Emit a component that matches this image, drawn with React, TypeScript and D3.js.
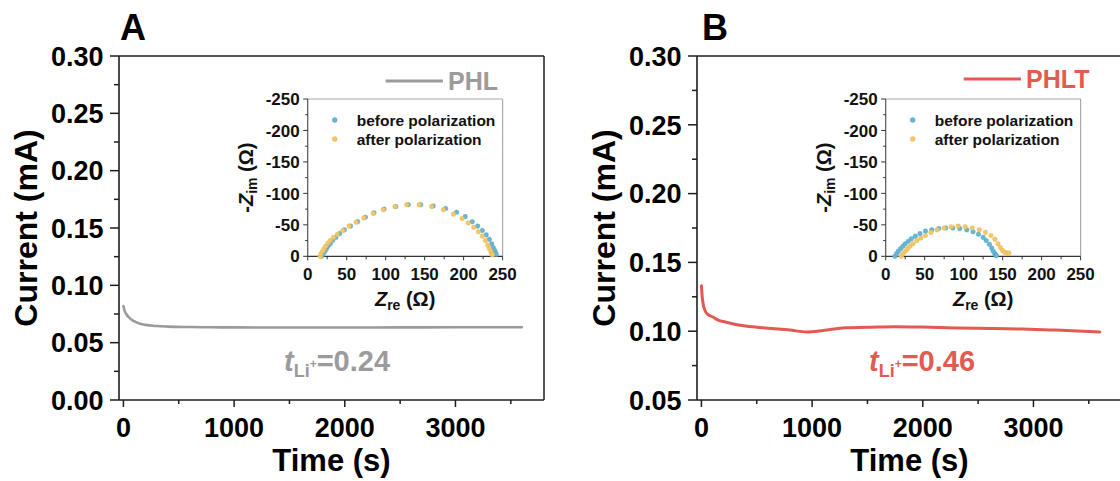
import React from "react";
import * as d3 from "d3";

// ---------- main chronoamperometry data ----------
const timeA = [0, 10, 25, 50, 75, 100, 150, 200, 300, 400, 600, 800, 1000, 1500, 2000, 2500, 3000, 3300, 3600];
const currentA = [0.082, 0.078, 0.075, 0.072, 0.070, 0.0685, 0.0665, 0.0655, 0.0645, 0.064, 0.0636, 0.0634, 0.0633, 0.0632, 0.0632, 0.0633, 0.0634, 0.0635, 0.0635];

const timeB = [0, 5, 15, 30, 60, 100, 150, 200, 300, 400, 600, 800, 950, 1100, 1300, 1500, 1750, 2000, 2300, 2600, 2900, 3200, 3400, 3600];
const currentB = [0.133, 0.127, 0.120, 0.1155, 0.112, 0.1105, 0.108, 0.107, 0.105, 0.1038, 0.1022, 0.1008, 0.0995, 0.1005, 0.1025, 0.1028, 0.1033, 0.103, 0.1024, 0.102, 0.1016, 0.1008, 0.1002, 0.0995];

// ---------- Nyquist inset data (Zre, -Zim) ----------
const zreABefore = [18, 20, 22, 24, 26, 29, 32, 36, 41, 47, 55, 64, 74, 85, 98, 113, 129, 145, 161, 177, 191, 202, 211, 218, 224, 229, 233, 236, 238, 240, 241, 242];
const zimABefore = [0, 4, 8, 12, 16, 20, 25, 30, 36, 42, 48, 55, 62, 69, 75, 79, 82, 82, 80, 76, 70, 63, 55, 48, 41, 34, 27, 20, 14, 9, 5, 3];
const zreAAfter = [16, 17, 19, 21, 23, 26, 29, 33, 38, 45, 53, 62, 72, 84, 97, 112, 127, 143, 159, 174, 187, 198, 206, 213, 219, 224, 228, 231, 233, 235, 236, 237];
const zimAAfter = [0, 4, 8, 12, 16, 21, 25, 30, 35, 41, 48, 54, 61, 68, 74, 79, 82, 82, 79, 74, 67, 60, 53, 46, 39, 32, 25, 18, 12, 7, 4, 2];

const zreBBefore = [12, 14, 16, 19, 22, 25, 29, 33, 38, 44, 51, 59, 68, 77, 86, 95, 104, 112, 119, 125, 129, 133, 136, 138, 140, 141, 142];
const zimBBefore = [0, 4, 8, 12, 16, 20, 24, 28, 32, 36, 40, 42, 44, 45, 45, 44, 42, 39, 35, 30, 25, 19, 13, 8, 4, 2, 1];
const zreBAfter = [20, 22, 25, 28, 31, 35, 40, 45, 51, 58, 66, 75, 84, 93, 102, 111, 120, 128, 135, 140, 144, 147, 150, 153, 156, 158];
const zimBAfter = [0, 4, 8, 12, 16, 20, 25, 29, 33, 38, 42, 45, 47, 48, 47, 45, 42, 38, 33, 27, 20, 14, 9, 6, 5, 5];

// ---------- ticks ----------
const xMajorTicks = [0, 1000, 2000, 3000];
const xMinorTicks = [500, 1500, 2500, 3500];
const yMajorA = [0, 0.05, 0.1, 0.15, 0.2, 0.25, 0.3];
const yMinorA = [0.025, 0.075, 0.125, 0.175, 0.225, 0.275];
const yMajorB = [0.05, 0.1, 0.15, 0.2, 0.25, 0.3];
const yMinorB = [0.075, 0.125, 0.175, 0.225, 0.275];
const insetMajor = [0, 50, 100, 150, 200, 250];
const insetMinor = [25, 75, 125, 175, 225];

const FONT = "'Liberation Sans', Arial, Helvetica, sans-serif";
const BLUE = "#67b6d6";
const ORANGE = "#f5c668";

type PanelProps = {
  left: number;
  label: string;
  labelDx: number;
  yDomain: [number, number];
  yMajor: number[];
  yMinor: number[];
  time: number[];
  current: number[];
  color: string;
  lineWidth: number;
  name: string;
  legendY: number;
  tValue: string;
  tDx: number;
  before: [number[], number[]];
  after: [number[], number[]];
};

function Panel(p: PanelProps) {
  const W = 425;
  const top = 56;
  const bottom = 400;
  const left = p.left;
  const right = left + W;
  const x = d3.scaleLinear().domain([-40, 3800]).range([left, right]);
  const y = d3.scaleLinear().domain(p.yDomain).range([bottom, top]);
  const line = d3
    .line<number>()
    .x((_, i) => x(p.time[i]))
    .y((d) => y(d))
    .curve(d3.curveMonotoneX);
  const axisColor = "#1e1e1e";

  // inset
  const iLeft = left + 188.7;
  const iRight = iLeft + 194.9;
  const iTop = 99;
  const iBottom = 256.3;
  const ix = d3.scaleLinear().domain([0, 250]).range([iLeft, iRight]);
  const iy = d3.scaleLinear().domain([0, 250]).range([iBottom, iTop]);
  const iCx = (iLeft + iRight) / 2;
  const iCy = (iTop + iBottom) / 2;

  return (
    <g fontFamily={FONT} fontWeight="bold">
      {/* panel label */}
      <text x={left + p.labelDx} y={40} fontSize={36} fill="#000">
        {p.label}
      </text>

      {/* frame */}
      <line x1={left} x2={right} y1={top} y2={top} stroke={axisColor} strokeWidth={1.5} />
      <line x1={right} x2={right} y1={top} y2={bottom} stroke={axisColor} strokeWidth={1.5} />
      <line x1={left} x2={right} y1={bottom} y2={bottom} stroke={axisColor} strokeWidth={1.6} />
      <line x1={left} x2={left} y1={top} y2={bottom} stroke={axisColor} strokeWidth={1.6} />

      {/* y ticks */}
      {p.yMajor.map((v) => (
        <g key={"ym" + v}>
          <line x1={left - 9} x2={left} y1={y(v)} y2={y(v)} stroke={axisColor} strokeWidth={1.5} />
          <text x={left - 15.5} y={y(v)} dy="0.36em" textAnchor="end" fontSize={27} fill="#000">
            {v.toFixed(2)}
          </text>
        </g>
      ))}
      {p.yMinor.map((v) => (
        <line key={"yn" + v} x1={left - 5} x2={left} y1={y(v)} y2={y(v)} stroke={axisColor} strokeWidth={1.5} />
      ))}

      {/* x ticks */}
      {xMajorTicks.map((v) => (
        <g key={"xm" + v}>
          <line x1={x(v)} x2={x(v)} y1={bottom} y2={bottom + 7} stroke={axisColor} strokeWidth={1.5} />
          <text x={x(v)} y={437} textAnchor="middle" fontSize={27} fill="#000">
            {v}
          </text>
        </g>
      ))}
      {xMinorTicks.map((v) => (
        <line key={"xn" + v} x1={x(v)} x2={x(v)} y1={bottom} y2={bottom + 4} stroke={axisColor} strokeWidth={1.5} />
      ))}

      {/* axis titles */}
      <text
        transform={`translate(${left - 82},${(top + bottom) / 2}) rotate(-90)`}
        textAnchor="middle"
        fontSize={32}
        fill="#000"
      >
        Current (mA)
      </text>
      <text x={(left + right) / 2} y={471} textAnchor="middle" fontSize={31} fill="#000">
        Time (s)
      </text>

      {/* data line */}
      <path d={line(p.current) || ""} fill="none" stroke={p.color} strokeWidth={p.lineWidth} strokeLinejoin="round" strokeLinecap="round" />

      {/* legend */}
      <line x1={left + 266.7} x2={left + 323.9} y1={p.legendY} y2={p.legendY} stroke={p.color} strokeWidth={3} />
      <text x={left + 329} y={p.legendY + 9} fontSize={25} fill={p.color}>
        {p.name}
      </text>

      {/* transference number */}
      <text x={left + p.tDx} y={371} fontSize={29} fill={p.color}>
        <tspan fontStyle="italic">t</tspan>
        <tspan fontSize={18} dy={6}>Li</tspan>
        <tspan fontSize={12} dy={-9}>+</tspan>
        <tspan fontSize={29} dy={3}>{p.tValue}</tspan>
      </text>

      {/* ---------- inset ---------- */}
      <rect x={iLeft} y={iTop} width={iRight - iLeft} height={iBottom - iTop} fill="#fff" />
      <line x1={iLeft} x2={iRight} y1={iTop} y2={iTop} stroke="#a8a8a8" strokeWidth={1.2} />
      <line x1={iRight} x2={iRight} y1={iTop} y2={iBottom} stroke="#a8a8a8" strokeWidth={1.2} />
      <line x1={iLeft} x2={iRight} y1={iBottom} y2={iBottom} stroke="#333" strokeWidth={1.2} />
      <line x1={iLeft} x2={iLeft} y1={iTop} y2={iBottom} stroke="#555" strokeWidth={1.2} />

      {insetMajor.map((v) => (
        <g key={"iy" + v}>
          <line x1={iLeft - 4.5} x2={iLeft} y1={iy(v)} y2={iy(v)} stroke="#333" strokeWidth={1} />
          <text x={iLeft - 8} y={iy(v)} dy="0.36em" textAnchor="end" fontSize={17} fill="#111">
            {v === 0 ? "0" : "-" + v}
          </text>
          <line x1={ix(v)} x2={ix(v)} y1={iBottom} y2={iBottom + 4} stroke="#333" strokeWidth={1} />
          <text x={ix(v)} y={280} textAnchor="middle" fontSize={17} fill="#111">
            {v}
          </text>
        </g>
      ))}
      {insetMinor.map((v) => (
        <g key={"in" + v}>
          <line x1={iLeft - 2.5} x2={iLeft} y1={iy(v)} y2={iy(v)} stroke="#333" strokeWidth={1} />
          <line x1={ix(v)} x2={ix(v)} y1={iBottom} y2={iBottom + 3} stroke="#333" strokeWidth={1} />
        </g>
      ))}

      {/* inset axis titles */}
      <text x={iCx} y={306} textAnchor="middle" fontSize={20} fill="#111">
        <tspan fontStyle="italic">Z</tspan>
        <tspan fontSize={14} dy={4}>re</tspan>
        <tspan dy={-4}> (Ω)</tspan>
      </text>
      <text transform={`translate(${iLeft - 55},${iCy}) rotate(-90)`} textAnchor="middle" fontSize={20} fill="#111">
        -<tspan fontStyle="italic">Z</tspan>
        <tspan fontSize={14} dy={4}>im</tspan>
        <tspan dy={-4}> (Ω)</tspan>
      </text>

      {/* nyquist points */}
      {p.before[0].map((zr, i) => (
        <circle key={"b" + i} cx={ix(zr)} cy={iy(p.before[1][i])} r={2.3} fill={BLUE} stroke="#4a9fc2" strokeWidth={0.4} />
      ))}
      {p.after[0].map((zr, i) => (
        <circle key={"a" + i} cx={ix(zr)} cy={iy(p.after[1][i])} r={2.3} fill={ORANGE} stroke="#e8b24a" strokeWidth={0.4} />
      ))}

      {/* inset legend */}
      <circle cx={iLeft + 27} cy={120} r={2.5} fill={BLUE} stroke="#4a9fc2" strokeWidth={0.4} />
      <circle cx={iLeft + 27} cy={139} r={2.5} fill={ORANGE} stroke="#e8b24a" strokeWidth={0.4} />
      <text x={iLeft + 49} y={125.5} fontSize={15.5} fill="#111">
        before polarization
      </text>
      <text x={iLeft + 49} y={144.5} fontSize={15.5} fill="#111">
        after polarization
      </text>
    </g>
  );
}

export default function App() {
  return (
    <svg
      width={1120}
      height={481}
      viewBox="0 0 1120 481"
      style={{ position: "absolute", left: 0, top: 0, display: "block", background: "#fff" }}
    >
      <rect x={0} y={0} width={1120} height={481} fill="#fff" />
      <Panel
        left={119}
        label="A"
        labelDx={1}
        yDomain={[0, 0.3]}
        yMajor={yMajorA}
        yMinor={yMinorA}
        time={timeA}
        current={currentA}
        color="#9b9b9b"
        lineWidth={2.6}
        name="PHL"
        legendY={81}
        tValue="=0.24"
        tDx={165}
        before={[zreABefore, zimABefore]}
        after={[zreAAfter, zimAAfter]}
      />
      <Panel
        left={697}
        label="B"
        labelDx={5}
        yDomain={[0.05, 0.3]}
        yMajor={yMajorB}
        yMinor={yMinorB}
        time={timeB}
        current={currentB}
        color="#e25a52"
        lineWidth={3}
        name="PHLT"
        legendY={79}
        tValue="=0.46"
        tDx={172}
        before={[zreBBefore, zimBBefore]}
        after={[zreBAfter, zimBAfter]}
      />
    </svg>
  );
}
